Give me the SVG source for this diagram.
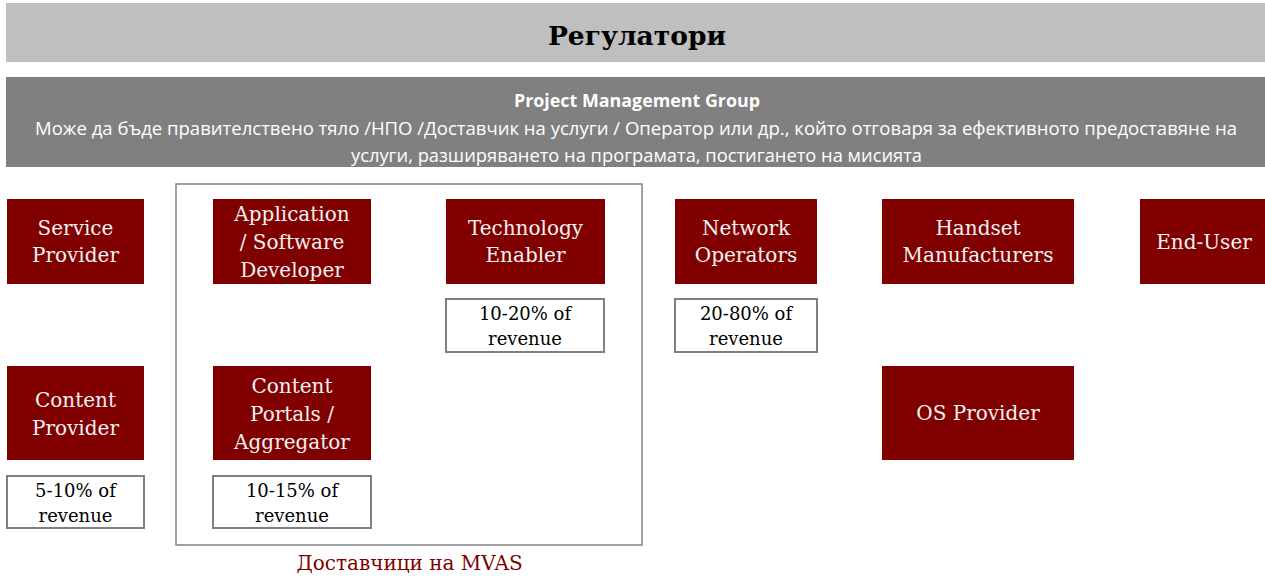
<svg xmlns="http://www.w3.org/2000/svg" width="1265" height="577" viewBox="0 0 1265 577">
<style>
.node rect{fill:#800000}
.node text{fill:#f2f2f2;font-family:"DejaVu Serif","Liberation Serif",serif;font-size:20px;text-anchor:middle}
.lbl rect{fill:#fff;stroke:#808080;stroke-width:2}
.lbl text{fill:#000;font-family:"DejaVu Serif","Liberation Serif",serif;font-size:18px;text-anchor:middle}
.pmg{font-family:"Open Sans","Noto Sans",sans-serif;fill:#fff;text-anchor:middle}
</style>
<rect width="1265" height="577" fill="#fff"/>
<g id="regulators">
<rect x="6" y="3" width="1259" height="59" fill="#bfbfbf"/>
<text x="637" y="45" font-family="DejaVu Serif, Liberation Serif, serif" font-weight="bold" font-size="26.5" text-anchor="middle" fill="#000">Регулатори</text>
</g>
<g id="pmg">
<rect x="6" y="77" width="1259" height="90" fill="#808080"/>
<text class="pmg" x="637" y="107" font-size="17" font-weight="bold" textLength="246" lengthAdjust="spacingAndGlyphs">Project Management Group</text>
<text class="pmg" x="636" y="135" font-size="17.5" textLength="1202" lengthAdjust="spacingAndGlyphs">Може да бъде правителствено тяло /НПО /Доставчик на услуги / Оператор или др., който отговаря за ефективното предоставяне на</text>
<text class="pmg" x="636.5" y="162" font-size="17.5" textLength="571" lengthAdjust="spacingAndGlyphs">услуги, разширяването на програмата, постигането на мисията</text>
</g>
<g id="mvas-group">
<rect x="176" y="184" width="466" height="361" fill="none" stroke="#808080" stroke-width="1.5"/>
<text x="409.5" y="570" font-family="DejaVu Serif, Liberation Serif, serif" font-size="20" text-anchor="middle" fill="#800000">Доставчици на MVAS</text>
</g>
<g id="service-provider" class="node">
<rect x="7" y="199" width="137" height="85"/>
<text x="75.5" y="235">Service</text><text x="75.5" y="262">Provider</text>
</g>
<g id="app-developer" class="node">
<rect x="213" y="199" width="158" height="85"/>
<text x="292" y="221">Application</text><text x="292" y="249">/ Software</text><text x="292" y="277">Developer</text>
</g>
<g id="technology-enabler" class="node">
<rect x="446" y="199" width="159" height="85"/>
<text x="525.5" y="235">Technology</text><text x="525.5" y="262">Enabler</text>
</g>
<g id="network-operators" class="node">
<rect x="675" y="199" width="142" height="85"/>
<text x="746" y="235">Network</text><text x="746" y="262">Operators</text>
</g>
<g id="handset-manufacturers" class="node">
<rect x="882" y="199" width="192" height="85"/>
<text x="978" y="235">Handset</text><text x="978" y="262">Manufacturers</text>
</g>
<g id="end-user" class="node">
<rect x="1140" y="199" width="128" height="85"/>
<text x="1204" y="249">End-User</text>
</g>
<g id="content-provider" class="node">
<rect x="7" y="366" width="137" height="94"/>
<text x="75.5" y="407">Content</text><text x="75.5" y="435">Provider</text>
</g>
<g id="content-portals" class="node">
<rect x="213" y="366" width="158" height="94"/>
<text x="292" y="393">Content</text><text x="292" y="421">Portals /</text><text x="292" y="449">Aggregator</text>
</g>
<g id="os-provider" class="node">
<rect x="882" y="366" width="192" height="94"/>
<text x="978" y="420">OS Provider</text>
</g>
<g id="rev-tech" class="lbl">
<rect x="446" y="299" width="158" height="53"/>
<text x="525" y="320">10-20% of</text><text x="525" y="345">revenue</text>
</g>
<g id="rev-network" class="lbl">
<rect x="675" y="299" width="142" height="53"/>
<text x="746" y="320">20-80% of</text><text x="746" y="345">revenue</text>
</g>
<g id="rev-content" class="lbl">
<rect x="7" y="476" width="137" height="52"/>
<text x="75.5" y="497">5-10% of</text><text x="75.5" y="522">revenue</text>
</g>
<g id="rev-portals" class="lbl">
<rect x="213" y="476" width="158" height="52"/>
<text x="292" y="497">10-15% of</text><text x="292" y="522">revenue</text>
</g>
<g id="connectors"></g>
</svg>
